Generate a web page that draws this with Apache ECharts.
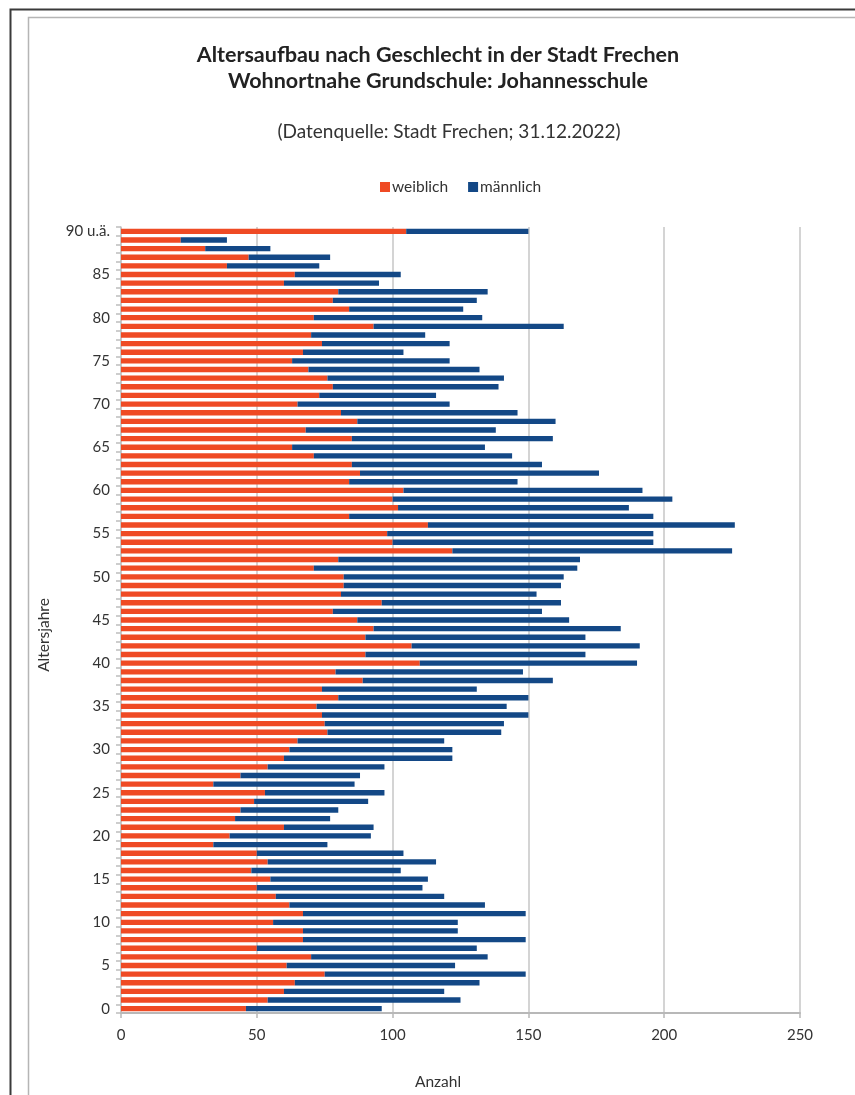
<!DOCTYPE html>
<html>
<head>
<meta charset="utf-8">
<script src="https://cdn.jsdelivr.net/npm/echarts@6/dist/echarts.min.js"></script>
<style>
  html, body { margin: 0; padding: 0; background: #ffffff; }
  #chart { width: 855px; height: 1095px; }
</style>
</head>
<body>
<div id="chart"></div>
<script>
// Altersjahre 0 … 89 plus "90 u.ä."
const ages = [];
for (let a = 0; a <= 89; a++) ages.push(String(a));
ages.push('90 u.ä.');

// Anzahl weiblich je Altersjahr (0 … 90 u.ä.)
const weiblich = [
  46, 54, 60, 64, 75, 61, 70, 50, 67, 67,
  56, 67, 62, 57, 50, 55, 48, 54, 50, 34,
  40, 60, 42, 44, 49, 53, 34, 44, 54, 60,
  62, 65, 76, 75, 74, 72, 80, 74, 89, 79,
  110, 90, 107, 90, 93, 87, 78, 96, 81, 82,
  82, 71, 80, 122, 100, 98, 113, 84, 102, 100,
  104, 84, 88, 85, 71, 63, 85, 68, 87, 81,
  65, 73, 78, 76, 69, 63, 67, 74, 70, 93,
  71, 84, 78, 80, 60, 64, 39, 47, 31, 22,
  105
];

// Anzahl männlich je Altersjahr (0 … 90 u.ä.)
const maennlich = [
  50, 71, 59, 68, 74, 62, 65, 81, 82, 57,
  68, 82, 72, 62, 61, 58, 55, 62, 54, 42,
  52, 33, 35, 36, 42, 44, 52, 44, 43, 62,
  60, 54, 64, 66, 76, 70, 70, 57, 70, 69,
  80, 81, 84, 81, 91, 78, 77, 66, 72, 80,
  81, 97, 89, 103, 96, 98, 113, 112, 85, 103,
  88, 62, 88, 70, 73, 71, 74, 70, 73, 65,
  56, 43, 61, 65, 63, 58, 37, 47, 42, 70,
  62, 42, 53, 55, 35, 39, 34, 30, 24, 17,
  45
];

const xTicks = { min: 0, max: 250, interval: 50 };

const FONT = 'Lato, "Open Sans", sans-serif';
const TEXT = '#333333';
const GRID_GRAY = '#c6c6c6';

const chart = echarts.init(document.getElementById('chart'), null, { renderer: 'canvas' });

chart.setOption({
  backgroundColor: '#ffffff',
  animation: false,
  textStyle: { fontFamily: FONT },
  title: [
    {
      text: 'Altersaufbau nach Geschlecht in der Stadt Frechen\nWohnortnahe Grundschule: Johannesschule',
      left: 433,
      top: 37,
      textAlign: 'center',
      textStyle: {
        fontFamily: FONT, fontSize: 21.5, fontWeight: 'bold',
        color: '#222222', lineHeight: 26
      }
    },
    {
      text: '(Datenquelle: Stadt Frechen; 31.12.2022)',
      left: 444,
      top: 117,
      textAlign: 'center',
      textStyle: { fontFamily: FONT, fontSize: 19, fontWeight: 'normal', color: TEXT }
    }
  ],
  legend: {
    left: 375,
    top: 174,
    icon: 'rect',
    itemWidth: 10,
    itemHeight: 10,
    itemGap: 20,
    textStyle: { fontFamily: FONT, fontSize: 15.5, color: TEXT, padding: [0, 0, 0, -3] },
    data: ['weiblich', 'männlich']
  },
  grid: { left: 121, right: 55, top: 227, bottom: 82, containLabel: false },
  xAxis: {
    type: 'value',
    min: xTicks.min,
    max: xTicks.max,
    interval: xTicks.interval,
    axisLine: { show: true, lineStyle: { color: '#b8b8b8', width: 2 } },
    axisTick: { show: true, length: 5, lineStyle: { color: '#b8b8b8', width: 1.5 } },
    axisLabel: { fontFamily: FONT, fontSize: 15, color: TEXT, margin: 15 },
    splitLine: { show: true, lineStyle: { color: GRID_GRAY, width: 1.5 } }
  },
  yAxis: {
    type: 'category',
    data: ages,
    axisLine: { show: true, lineStyle: { color: GRID_GRAY, width: 1.5 } },
    axisTick: { show: true, interval: 0, length: 5, lineStyle: { color: '#bdbdbd', width: 1.5 } },
    axisLabel: { interval: 4, fontFamily: FONT, fontSize: 15, color: TEXT, margin: 11 },
    splitLine: { show: false }
  },
  series: [
    {
      name: 'weiblich',
      type: 'bar',
      stack: 'gesamt',
      data: weiblich,
      barCategoryGap: '38%',
      itemStyle: { color: '#EF4A24' }
    },
    {
      name: 'männlich',
      type: 'bar',
      stack: 'gesamt',
      data: maennlich,
      barCategoryGap: '38%',
      itemStyle: { color: '#134886' }
    }
  ],
  graphic: [
    // Achsentitel
    {
      type: 'text',
      silent: true,
      x: 44,
      y: 635,
      rotation: Math.PI / 2,
      style: {
        text: 'Altersjahre', fontFamily: FONT, fontSize: 15.5, fill: TEXT,
        textAlign: 'center', textVerticalAlign: 'middle'
      }
    },
    {
      type: 'text',
      silent: true,
      x: 438,
      y: 1082,
      style: {
        text: 'Anzahl', fontFamily: FONT, fontSize: 15.5, fill: TEXT,
        textAlign: 'center', textVerticalAlign: 'middle'
      }
    },
    // äußerer dunkler Rahmen
    {
      type: 'polyline',
      silent: true,
      shape: { points: [[10.5, 1095], [10.5, 9.5], [855, 9.5]] },
      style: { stroke: '#3a3a3a', lineWidth: 2, fill: null }
    },
    // innerer heller Rahmen
    {
      type: 'polyline',
      silent: true,
      shape: { points: [[28.5, 1095], [28.5, 17.5], [855, 17.5]] },
      style: { stroke: '#b5b5b5', lineWidth: 1.5, fill: null }
    }
  ]
});
</script>
</body>
</html>
